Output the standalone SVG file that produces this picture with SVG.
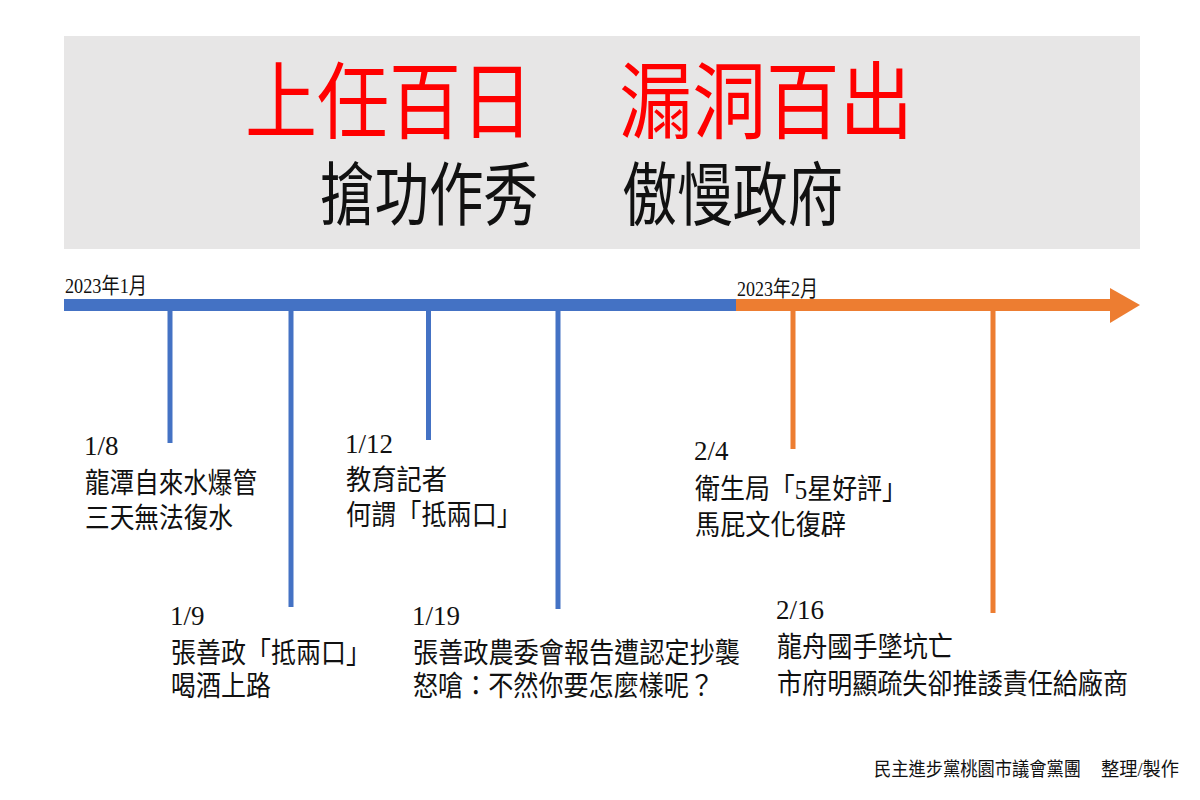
<svg xmlns="http://www.w3.org/2000/svg" width="1200" height="800" viewBox="0 0 1200 800">
<style>
.cjk{font-family:"Liberation Serif","Noto Sans CJK TC","Noto Sans CJK SC",sans-serif;}
.red{fill:#FF0000;font-size:84px;}
.sub{fill:#111111;font-size:69px;}
.date{font-family:"Liberation Serif","Noto Sans CJK TC",serif;font-size:27px;fill:#111111;}
.ev{font-family:"Liberation Serif","Noto Sans CJK TC","Noto Sans CJK SC",sans-serif;font-size:28px;fill:#111111;}
.month{font-family:"Liberation Serif","Noto Sans CJK TC",serif;font-size:22px;fill:#111111;}
.foot{font-family:"Liberation Serif","Noto Sans CJK TC","Noto Sans CJK SC",sans-serif;font-size:19px;fill:#111111;}
.blue{fill:#4472C4;}
.orange{fill:#ED7D31;}
</style>
<rect x="0" y="0" width="1200" height="800" fill="#FFFFFF"/>
<g id="banner">
<rect x="64" y="36" width="1076" height="213" fill="#E7E6E6"/>
<text class="cjk red" x="245" y="132" textLength="288" lengthAdjust="spacingAndGlyphs">上任百日</text>
<text class="cjk red" x="619" y="132" textLength="294" lengthAdjust="spacingAndGlyphs">漏洞百出</text>
<text class="cjk sub" x="320" y="220" textLength="218" lengthAdjust="spacingAndGlyphs">搶功作秀</text>
<text class="cjk sub" x="622" y="220" textLength="221" lengthAdjust="spacingAndGlyphs">傲慢政府</text>
</g>
<g id="timeline">
<rect class="blue" x="64" y="299" width="672" height="12"/>
<rect class="orange" x="736" y="299" width="375" height="12"/>
<polygon class="orange" points="1110,288 1140,305 1110,323"/>
<text class="month" x="65" y="293" textLength="82" lengthAdjust="spacingAndGlyphs">2023年1月</text>
<text class="month" x="737" y="296" textLength="81" lengthAdjust="spacingAndGlyphs">2023年2月</text>
</g>
<g id="connectors">
<rect class="blue" x="167.5" y="311" width="5" height="132"/>
<rect class="blue" x="288.5" y="311" width="5" height="296"/>
<rect class="blue" x="426" y="311" width="5" height="129"/>
<rect class="blue" x="555.5" y="311" width="5" height="298"/>
<rect class="orange" x="790.5" y="311" width="5" height="138"/>
<rect class="orange" x="990.5" y="311" width="5" height="302"/>
</g>
<g id="event-0108">
<text class="date" x="84" y="455">1/8</text>
<text class="ev" x="85" y="493" textLength="172" lengthAdjust="spacingAndGlyphs">龍潭自來水爆管</text>
<text class="ev" x="85" y="528" textLength="148" lengthAdjust="spacingAndGlyphs">三天無法復水</text>
</g>
<g id="event-0112">
<text class="date" x="345" y="453">1/12</text>
<text class="ev" x="346" y="490" textLength="101" lengthAdjust="spacingAndGlyphs">教育記者</text>
<text class="ev" x="346" y="525" textLength="176" lengthAdjust="spacingAndGlyphs">何謂「抵兩口」</text>
</g>
<g id="event-0109">
<text class="date" x="170" y="625">1/9</text>
<text class="ev" x="171" y="663" textLength="200" lengthAdjust="spacingAndGlyphs">張善政「抵兩口」</text>
<text class="ev" x="171" y="696" textLength="100" lengthAdjust="spacingAndGlyphs">喝酒上路</text>
</g>
<g id="event-0119">
<text class="date" x="412" y="625">1/19</text>
<text class="ev" x="413" y="663" textLength="327" lengthAdjust="spacingAndGlyphs">張善政農委會報告遭認定抄襲</text>
<text class="ev" x="413" y="696" textLength="301" lengthAdjust="spacingAndGlyphs">怒嗆：不然你要怎麼樣呢？</text>
</g>
<g id="event-0204">
<text class="date" x="694" y="460">2/4</text>
<text class="ev" x="695" y="499" textLength="212" lengthAdjust="spacingAndGlyphs">衛生局「5星好評」</text>
<text class="ev" x="695" y="535" textLength="151" lengthAdjust="spacingAndGlyphs">馬屁文化復辟</text>
</g>
<g id="event-0216">
<text class="date" x="776" y="619">2/16</text>
<text class="ev" x="777" y="657" textLength="176" lengthAdjust="spacingAndGlyphs">龍舟國手墜坑亡</text>
<text class="ev" x="777" y="694" textLength="351" lengthAdjust="spacingAndGlyphs">市府明顯疏失卻推諉責任給廠商</text>
</g>
<g id="footer">
<text class="foot" x="874" y="776" textLength="207" lengthAdjust="spacingAndGlyphs">民主進步黨桃園市議會黨團</text>
<text class="foot" x="1101" y="776" textLength="78" lengthAdjust="spacingAndGlyphs">整理/製作</text>
</g>
</svg>
